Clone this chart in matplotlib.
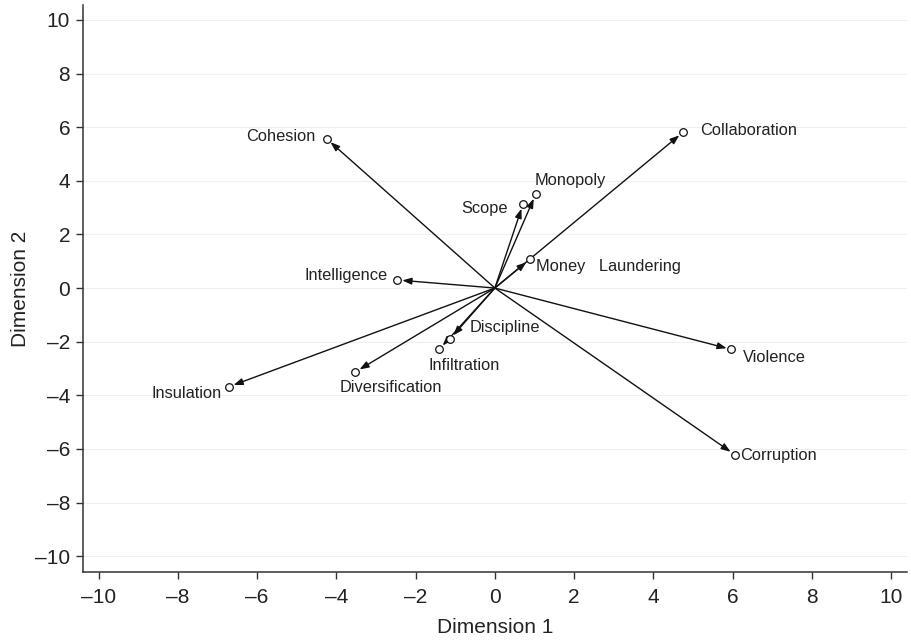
import matplotlib
matplotlib.use("Agg")
import matplotlib.pyplot as plt

labels = ["Cohesion", "Collaboration", "Monopoly", "Scope", "Money   Laundering",
          "Intelligence", "Discipline", "Infiltration", "Diversification",
          "Insulation", "Violence", "Corruption"]
dim1 = [-4.24, 4.75, 1.03, 0.71, 0.89, -2.46, -1.13, -1.40, -3.52, -6.71, 5.97, 6.05]
dim2 = [5.56, 5.81, 3.50, 3.13, 1.08, 0.30, -1.90, -2.28, -3.13, -3.68, -2.29, -6.21]
ticks = [-10, -8, -6, -4, -2, 0, 2, 4, 6, 8, 10]

# label offsets in points (dx, dy) and alignment
offsets = {
    "Cohesion": (-8, 2, "right"),
    "Collaboration": (12, 1, "left"),
    "Monopoly": (-1, 10, "left"),
    "Scope": (-11, -3, "right"),
    "Money   Laundering": (4, -5, "left"),
    "Intelligence": (-7, 3, "right"),
    "Discipline": (14, 8, "left"),
    "Infiltration": (-8, -12, "left"),
    "Diversification": (-11, -11, "left"),
    "Insulation": (-5, -5, "right"),
    "Violence": (8, -6, "left"),
    "Corruption": (4, -1, "left"),
}

plt.rcParams['font.family'] = ['Liberation Sans', 'DejaVu Sans']
fig = plt.figure(figsize=(9.11, 6.40), dpi=100)
ax = fig.add_axes([0.0908, 0.1058, 0.9048, 0.8862])

for yv in ticks:
    ax.axhline(yv, color="#efefef", lw=0.8, zorder=0)

for x, y, lab in zip(dim1, dim2, labels):
    ax.annotate("", xy=(x, y), xytext=(0, 0),
                arrowprops=dict(arrowstyle="-|>,head_length=0.55,head_width=0.2",
                                color="#111111", lw=1.0, shrinkA=0, shrinkB=3.5),
                zorder=2)
ax.scatter(dim1, dim2, s=30, facecolors="white", edgecolors="#111111",
           linewidths=0.9, zorder=3)

for x, y, lab in zip(dim1, dim2, labels):
    dx, dy, ha = offsets[lab]
    ax.annotate(lab, xy=(x, y), xytext=(dx, dy), textcoords="offset points",
                ha=ha, va="center", fontsize=11.8, color="#222222")

ax.set_xlim(-10.4, 10.4)
ax.set_ylim(-10.6, 10.55)
ax.set_xticks(ticks)
ax.set_yticks(ticks)
ax.set_xticklabels(["\u2013" + str(-t) if t < 0 else str(t) for t in ticks])
ax.set_yticklabels(["\u2013" + str(-t) if t < 0 else str(t) for t in ticks])
ax.tick_params(axis="both", labelsize=15, length=5, width=1, color="#333333",
               labelcolor="#222222", direction="out")
ax.tick_params(axis="x", pad=6)
ax.tick_params(axis="y", pad=4)
for s in ["top", "right"]:
    ax.spines[s].set_visible(False)
for s in ["left", "bottom"]:
    ax.spines[s].set_color("#333333")
    ax.spines[s].set_linewidth(1.1)
ax.set_xlabel("Dimension 1", fontsize=15, color="#222222", labelpad=8)
ax.set_ylabel("Dimension 2", fontsize=15, color="#222222", labelpad=4)

fig.savefig("out.png", dpi=100)
